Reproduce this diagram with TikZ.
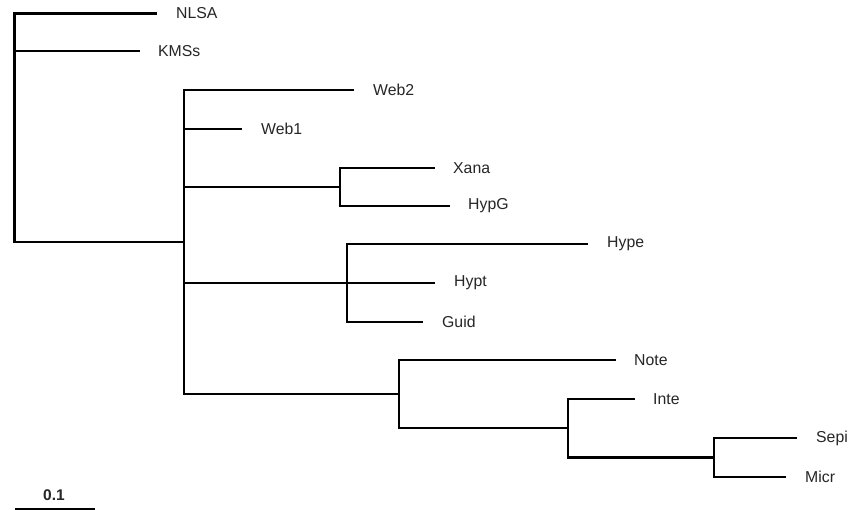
\documentclass[tikz,border=0pt]{standalone}
\usepackage{fontspec}
\setmainfont{Liberation Sans}
\begin{document}
\begin{tikzpicture}[x=1pt,y=-1pt,
  branch/.style={line width=2.7pt,line cap=rect,black},
  taxon/.style={anchor=west,inner sep=0pt,text=black!85,font=\fontsize{15.8}{16}\selectfont},
  scalelbl/.style={inner sep=0pt,text=black!85,font=\fontsize{15.5}{16}\selectfont\bfseries}]
\useasboundingbox[fill=white] (0,0) rectangle (849,510);

% internal nodes of the tree
\coordinate (R) at (14.3,242);
\coordinate (A) at (184,242);
\coordinate (B) at (340,187);
\coordinate (C) at (347,283);
\coordinate (D) at (399,394);
\coordinate (E) at (568,428);
\coordinate (F) at (714,457.5);

% branch tips
\coordinate (tNLSA) at (156,13.5);
\coordinate (tKMSs) at (139,51);
\coordinate (tWeb2) at (353,90);
\coordinate (tWeb1) at (241,129);
\coordinate (tXana) at (434,168);
\coordinate (tHypG) at (449,206);
\coordinate (tHype) at (587,244);
\coordinate (tHypt) at (434,283);
\coordinate (tGuid) at (422,322);
\coordinate (tNote) at (615,360);
\coordinate (tInte) at (634,399);
\coordinate (tSepi) at (796,438);
\coordinate (tMicr) at (785,477);

% taxon labels
\node[taxon] (NLSA) at (176,13.5) {NLSA};
\node[taxon] (KMSs) at (158,51) {KMSs};
\node[taxon] (Web2) at (373,90) {Web2};
\node[taxon] (Web1) at (261,129) {Web1};
\node[taxon] (Xana) at (453,168) {Xana};
\node[taxon] (HypG) at (468,206) {HypG};
\node[taxon] (Hype) at (607,244) {Hype};
\node[taxon] (Hypt) at (454,283) {Hypt};
\node[taxon] (Guid) at (442,322) {Guid};
\node[taxon] (Note) at (634,360) {Note};
\node[taxon] (Inte) at (653,399) {Inte};
\node[taxon] (Sepi) at (816,438) {Sepi};
\node[taxon] (Micr) at (805,477) {Micr};

% branches
\draw[branch] (R) |- (tNLSA);
\draw[branch] (R) |- (tKMSs);
\draw[branch] (R) -- (A);
\draw[branch] (A) |- (tWeb2);
\draw[branch] (A) |- (tWeb1);
\draw[branch] (A) |- (B);
\draw[branch] (A) |- (C);
\draw[branch] (A) |- (D);
\draw[branch] (B) |- (tXana);
\draw[branch] (B) |- (tHypG);
\draw[branch] (C) |- (tHype);
\draw[branch] (C) -- (tHypt);
\draw[branch] (C) |- (tGuid);
\draw[branch] (D) |- (tNote);
\draw[branch] (D) |- (E);
\draw[branch] (E) |- (tInte);
\draw[branch] (E) |- (F);
\draw[branch] (F) |- (tSepi);
\draw[branch] (F) |- (tMicr);

% scale bar
\node[scalelbl] (scale) at (54,495) {0.1};
\coordinate (s0) at (15,508.6);
\coordinate (s1) at (95,508.6);
\draw[line width=2.2pt] (s0) -- (s1);
\end{tikzpicture}
\end{document}
